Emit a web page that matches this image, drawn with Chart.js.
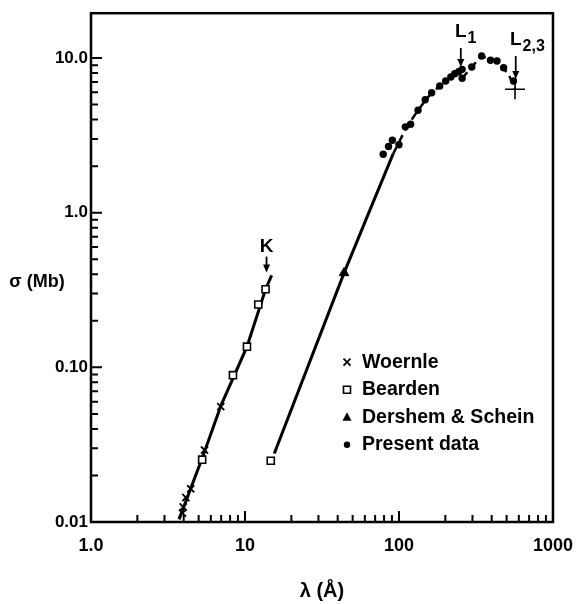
<!DOCTYPE html>
<html>
<head>
<meta charset="utf-8">
<script src="https://cdn.jsdelivr.net/npm/chart.js@4"></script>
<style>
  html, body { margin: 0; padding: 0; background: #fff; }
  canvas { display: block; }
</style>
</head>
<body>
<canvas id="chart" width="586" height="604"></canvas>
<script>
// values, [wavelength (A), sigma (Mb)]
const woernle = [[3.93, 0.0114], [3.97, 0.0125], [4.13, 0.0144], [4.44, 0.0164], [5.46, 0.0292], [6.96, 0.0557]];
const bearden = [[5.27, 0.0253], [8.35, 0.089], [10.3, 0.136], [12.2, 0.255], [13.6, 0.32], [14.7, 0.0249]];
const dershem = [[44, 0.408]];
const present = [
    [79, 2.39], [85.5, 2.68], [90.6, 2.94], [100, 2.75], [110, 3.59], [119, 3.73],
    [133, 4.6], [148, 5.38], [163, 5.97], [184, 6.6], [201, 7.11], [217, 7.54],
    [230, 7.92], [244, 8.16], [257, 8.45], [257, 7.4], [297, 8.75], [344, 10.3],
    [393, 9.67], [433, 9.57], [478, 8.66], [554, 7.11]
];
const edgeCross = [[567, 6.28]];

// drawn curves
const kCurve = [[3.73, 0.0104], [5.3, 0.0262], [7.0, 0.057], [10.3, 0.136], [13.6, 0.32], [14.9, 0.393]];
const lCurve = [[15.5, 0.0277], [44, 0.408], [65, 1.05], [91.6, 2.4]];
const dashCurve = [
    [91.6, 2.4], [100, 2.85], [110, 3.45], [119, 3.9], [133, 4.6], [148, 5.3],
    [163, 5.95], [184, 6.6], [201, 7.1], [217, 7.55], [230, 7.9], [244, 8.15], [257, 8.45],
    [257, null],
    [257, 7.4], [297, 8.75], [344, 10.3], [393, 9.7], [433, 9.5], [478, 8.6], [520, 7.7], [567, 6.28]
];

// absorption edges
const edgeNames = ['K', 'L', 'L'];
const edgeSubs = ['', '1', '2,3'];
const edgeX = [13.8, 252, 573];
const edgeTip = [0.41, 8.75, 7.32];
const edgeTop = [0.52, 11.6, 10.3];

const xTickLabels = ['1.0', '10', '100', '1000'];
const yTickLabels = ['0.01', '0.10', '1.0', '10.0'];
const xDecades = [1, 10, 100, 1000];
const yDecades = [0.01, 0.1, 1, 10];
const legendLabels = ['Woernle', 'Bearden', 'Dershem & Schein', 'Present data'];

const FONT = '"Liberation Sans", Arial, sans-serif';
const pts = arr => arr.map(([x, y]) => ({ x, y }));

function minorTicks(decades) {
    const out = [];
    decades.slice(0, -1).forEach(d => {
        for (let m = 2; m <= 9; m++) out.push(d * m);
    });
    return out;
}

function drawSymbol(ctx, style, x, y) {
    ctx.beginPath();
    if (style === 'crossRot') {
        ctx.lineWidth = 1.8;
        ctx.moveTo(x - 3.5, y - 3.5); ctx.lineTo(x + 3.5, y + 3.5);
        ctx.moveTo(x + 3.5, y - 3.5); ctx.lineTo(x - 3.5, y + 3.5);
        ctx.stroke();
    } else if (style === 'rect') {
        ctx.lineWidth = 1.6;
        ctx.fillStyle = '#fff';
        ctx.rect(x - 3.5, y - 3.5, 7, 7);
        ctx.fill(); ctx.stroke();
    } else if (style === 'triangle') {
        ctx.fillStyle = '#000';
        ctx.moveTo(x, y - 5); ctx.lineTo(x + 4.5, y + 3.5); ctx.lineTo(x - 4.5, y + 3.5);
        ctx.closePath(); ctx.fill();
    } else {
        ctx.fillStyle = '#000';
        ctx.arc(x, y, 3.2, 0, Math.PI * 2); ctx.fill();
    }
}

const extras = {
    id: 'extras',
    afterDatasetsDraw(chart) {
        const { ctx, chartArea: a, scales: { x, y } } = chart;
        ctx.save();
        ctx.strokeStyle = '#000';
        ctx.fillStyle = '#000';

        // frame
        ctx.lineWidth = 2.5;
        ctx.strokeRect(a.left, a.top, a.right - a.left, a.bottom - a.top);

        // inward ticks
        ctx.lineWidth = 2;
        ctx.beginPath();
        xDecades.forEach(v => { const px = x.getPixelForValue(v); ctx.moveTo(px, a.bottom); ctx.lineTo(px, a.bottom - 11); });
        minorTicks(xDecades).forEach(v => { const px = x.getPixelForValue(v); ctx.moveTo(px, a.bottom); ctx.lineTo(px, a.bottom - 7); });
        yDecades.forEach(v => { const py = y.getPixelForValue(v); ctx.moveTo(a.left, py); ctx.lineTo(a.left + 11, py); });
        minorTicks(yDecades).forEach(v => { const py = y.getPixelForValue(v); ctx.moveTo(a.left, py); ctx.lineTo(a.left + 7, py); });
        ctx.stroke();

        // edge arrows and labels
        edgeNames.forEach((name, i) => {
            const px = x.getPixelForValue(edgeX[i]);
            const tip = y.getPixelForValue(edgeTip[i]);
            const top = y.getPixelForValue(edgeTop[i]);
            ctx.lineWidth = 1.8;
            ctx.beginPath();
            ctx.moveTo(px, top); ctx.lineTo(px, tip - 6);
            ctx.stroke();
            ctx.beginPath();
            ctx.moveTo(px, tip); ctx.lineTo(px - 3.5, tip - 8); ctx.lineTo(px + 3.5, tip - 8);
            ctx.closePath(); ctx.fill();

            ctx.font = 'bold 19px ' + FONT;
            ctx.textAlign = 'center';
            ctx.textBaseline = 'alphabetic';
            const w = ctx.measureText(name).width;
            const base = top - (edgeSubs[i] ? 11 : 5);
            ctx.fillText(name, px, base);
            if (edgeSubs[i]) {
                ctx.font = 'bold 16px ' + FONT;
                ctx.textAlign = 'left';
                ctx.fillText(edgeSubs[i], px + w / 2 + 1, base + 6);
            }
        });

        // legend inside the plot
        ctx.font = 'bold 19.5px ' + FONT;
        ctx.textAlign = 'left';
        ctx.textBaseline = 'middle';
        const styles = ['crossRot', 'rect', 'triangle', 'circle'];
        legendLabels.forEach((label, i) => {
            const ly = a.top + 349 + i * 27.5;
            ctx.strokeStyle = '#000';
            drawSymbol(ctx, styles[i], a.left + 256, ly);
            ctx.fillStyle = '#000';
            ctx.fillText(label, a.left + 271, ly);
        });

        // axis titles
        ctx.font = 'bold 18px ' + FONT;
        ctx.textAlign = 'center';
        ctx.fillText('\u03c3 (Mb)', 37, 282);
        ctx.font = 'bold 20px ' + FONT;
        ctx.fillText('\u03bb (\u00c5)', (a.left + a.right) / 2, 591);
        ctx.restore();
    }
};

const black = '#000';
new Chart(document.getElementById('chart'), {
    type: 'scatter',
    data: {
        datasets: [
            { label: 'Woernle', data: pts(woernle), pointStyle: 'crossRot', pointRadius: 5, borderWidth: 1.8, borderColor: black, backgroundColor: black },
            { label: 'Bearden', data: pts(bearden), pointStyle: 'rect', pointRadius: 5, borderWidth: 1.6, borderColor: black, backgroundColor: '#fff' },
            { label: 'Dershem & Schein', data: pts(dershem), pointStyle: 'triangle', pointRadius: 5.5, borderWidth: 1, borderColor: black, backgroundColor: black },
            { label: 'Present data', data: pts(present), pointStyle: 'circle', pointRadius: 3.7, borderWidth: 0, backgroundColor: black },
            { label: 'L2,3 edge', data: pts(edgeCross), pointStyle: 'cross', pointRadius: 10, borderWidth: 1.6, borderColor: black },
            { label: 'K fit', data: pts(kCurve), showLine: true, pointRadius: 0, borderWidth: 3, borderColor: black },
            { label: 'L fit', data: pts(lCurve), showLine: true, pointRadius: 0, borderWidth: 3, borderColor: black },
            { label: 'L fit dashed', data: pts(dashCurve), showLine: true, spanGaps: false, pointRadius: 0, borderWidth: 2.5, borderDash: [8, 5], borderColor: black }
        ]
    },
    options: {
        responsive: false,
        animation: false,
        events: [],
        layout: { padding: { top: 11, right: 24, left: 0, bottom: 0 } },
        plugins: { legend: { display: false }, tooltip: { enabled: false } },
        scales: {
            x: {
                type: 'logarithmic',
                min: 1, max: 1000,
                border: { display: false },
                grid: { display: false, drawTicks: false },
                afterBuildTicks: s => { s.ticks = xDecades.map(v => ({ value: v })); },
                afterFit: s => { s.height = 82; },
                ticks: {
                    autoSkip: false, maxRotation: 0, padding: 13, color: black,
                    font: { family: FONT, size: 18, weight: 'bold' },
                    callback: (v, i) => xTickLabels[i]
                }
            },
            y: {
                type: 'logarithmic',
                min: 0.01, max: 19.5,
                border: { display: false },
                grid: { display: false, drawTicks: false },
                afterBuildTicks: s => { s.ticks = yDecades.map(v => ({ value: v })); },
                afterFit: s => { s.width = 91; },
                ticks: {
                    autoSkip: false, padding: 3, color: black,
                    font: { family: FONT, size: 17, weight: 'bold' },
                    callback: (v, i) => yTickLabels[i]
                }
            }
        }
    },
    plugins: [extras]
});
</script>
</body>
</html>
